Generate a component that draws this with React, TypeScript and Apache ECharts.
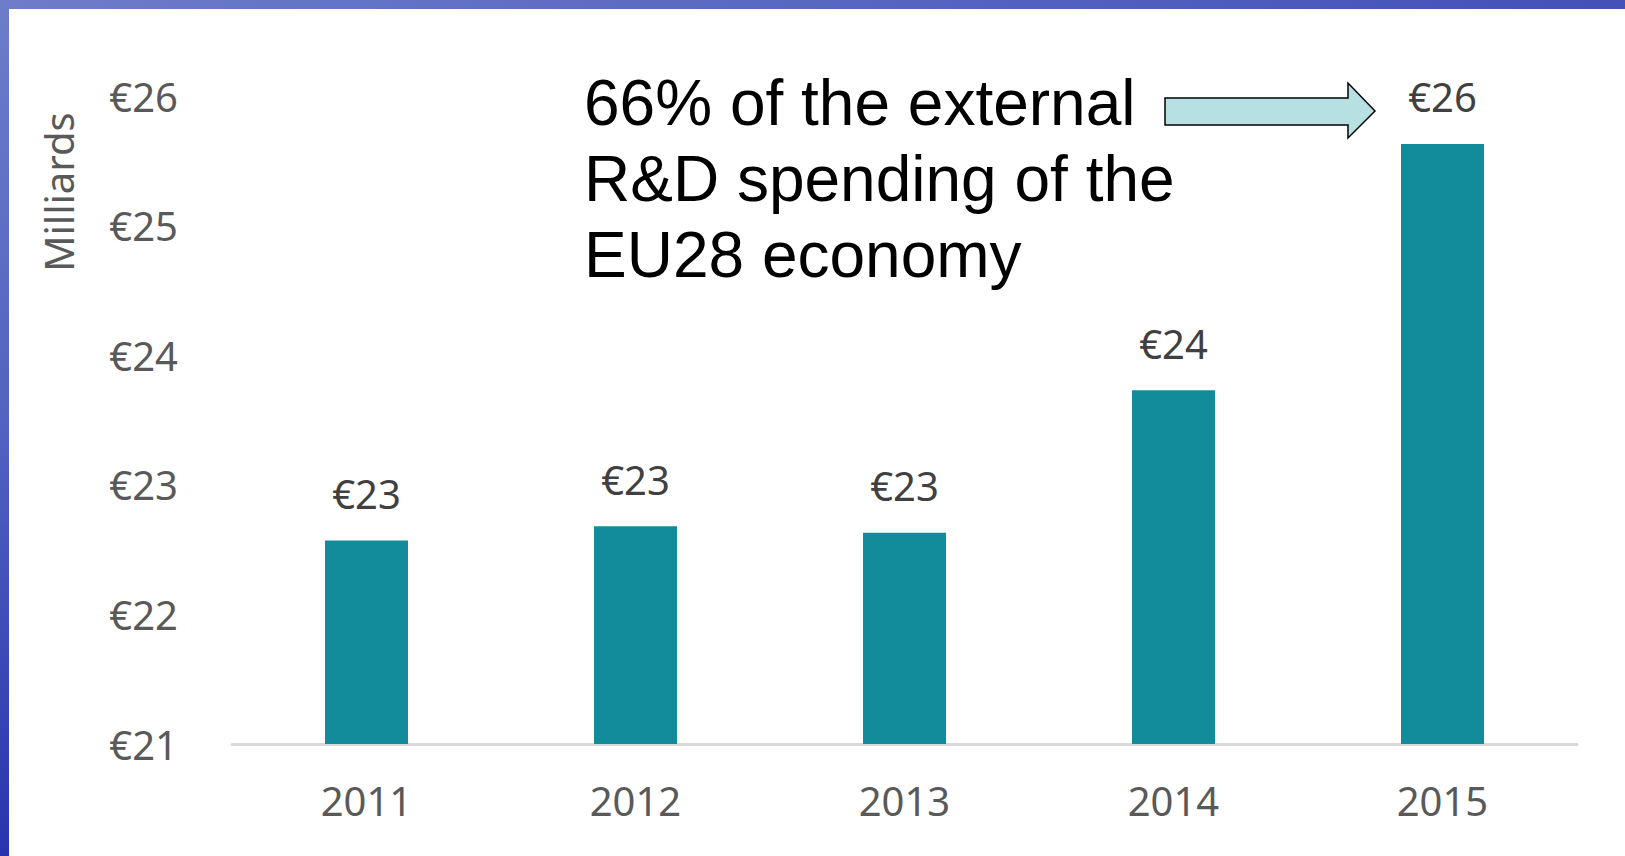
import React, { useEffect, useRef } from "react";
import * as echarts from "echarts";

const years = ["2011", "2012", "2013", "2014", "2015"];
const spending = [22.57, 22.68, 22.63, 23.73, 25.63];
const yMin = 21;
const yMax = 26;
const yStep = 1;
const axisName = "Milliards";
const noteLines = ["66% of the external", "R&D spending of the", "EU28 economy"];

const W = 1625;
const H = 856;

export default function App() {
  const ref = useRef<HTMLDivElement>(null);
  useEffect(() => {
    if (!ref.current) return;
    const chart = echarts.init(ref.current, null, { renderer: "svg" });
    const font = "'Noto Sans', sans-serif";
    chart.setOption({
      animation: false,
      backgroundColor: "#ffffff",
      grid: { left: 232, right: 48, top: 96, bottom: 112, containLabel: false },
      xAxis: {
        type: "category",
        data: years,
        axisLine: { show: true, lineStyle: { color: "#d9d9d9", width: 3 } },
        axisTick: { show: false },
        axisLabel: { color: "#595959", fontSize: 40, fontFamily: font, margin: 36 },
      },
      yAxis: {
        type: "value",
        min: yMin,
        max: yMax,
        interval: yStep,
        axisLine: { show: false },
        axisTick: { show: false },
        splitLine: { show: false },
        axisLabel: {
          color: "#595959",
          fontSize: 40,
          fontFamily: font,
          margin: 54,
          formatter: (v: number) => "€" + v,
        },
      },
      series: [
        {
          type: "bar",
          data: spending,
          barWidth: 83,
          itemStyle: { color: "#128b9a" },
          label: {
            show: true,
            position: "top",
            distance: 27,
            color: "#404040",
            fontSize: 40,
            fontFamily: font,
            formatter: (p: any) => "€" + Math.round(p.value),
          },
        },
      ],
      graphic: [
        {
          type: "rect",
          silent: true,
          shape: { x: 0, y: 0, width: W, height: 9 },
          style: {
            fill: new echarts.graphic.LinearGradient(0, 0, 1, 0, [
              { offset: 0, color: "#6d7dc9" },
              { offset: 1, color: "#4351b8" },
            ]),
          },
        },
        {
          type: "rect",
          silent: true,
          shape: { x: 0, y: 0, width: 9, height: H },
          style: {
            fill: new echarts.graphic.LinearGradient(0, 0, 0, 1, [
              { offset: 0, color: "#6d7dc9" },
              { offset: 0.5, color: "#5162c0" },
              { offset: 1, color: "#2834ae" },
            ]),
          },
        },
        {
          type: "text",
          x: 58,
          y: 192,
          rotation: Math.PI / 2,
          style: {
            text: axisName,
            fill: "#595959",
            fontSize: 40,
            fontFamily: font,
            align: "center",
            verticalAlign: "middle",
          },
        },
        {
          type: "text",
          x: 584,
          y: 65,
          style: {
            text: noteLines.join("\n"),
            fill: "#000000",
            fontSize: 64,
            lineHeight: 76,
            fontFamily: "'Liberation Sans', Arial, sans-serif",
            align: "left",
            verticalAlign: "top",
          },
        },
        {
          type: "polygon",
          shape: {
            points: [
              [1165, 98],
              [1348, 98],
              [1348, 83],
              [1375, 111],
              [1348, 138],
              [1348, 125],
              [1165, 125],
            ],
          },
          style: { fill: "#b7e0e3", stroke: "#000000", lineWidth: 1.5 },
        },
      ],
    });
    return () => chart.dispose();
  }, []);
  return (
    <div
      ref={ref}
      style={{ position: "absolute", left: 0, top: 0, width: W, height: H, background: "#fff" }}
    />
  );
}
